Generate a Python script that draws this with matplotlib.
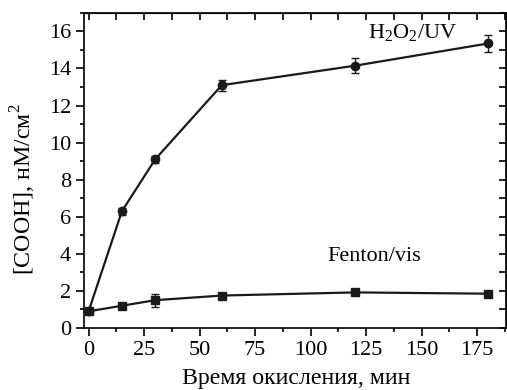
import matplotlib
matplotlib.use("Agg")
from matplotlib import pyplot as plt
from matplotlib.ticker import MultipleLocator

plt.rcParams['font.family'] = ['Liberation Serif', 'DejaVu Serif']
plt.rcParams['mathtext.fontset'] = 'custom'
plt.rcParams['mathtext.rm'] = 'Liberation Serif'

time = [0, 15, 30, 60, 120, 180]
uv_vals = [0.9, 6.3, 9.1, 13.1, 14.15, 15.35]
uv_err = [0.1, 0.2, 0.2, 0.3, 0.4, 0.45]
fenton_vals = [0.9, 1.2, 1.5, 1.75, 1.92, 1.85]
fenton_err = [0.1, 0.1, 0.35, 0.1, 0.1, 0.08]

fig = plt.figure(figsize=(5.07, 3.9), dpi=100)
ax = fig.add_axes([0.166, 0.159, 0.832, 0.808])

ax.errorbar(time, uv_vals, yerr=uv_err, color='#1a1a1a', marker='o', markersize=6,
            lw=1.6, capsize=3, elinewidth=1, capthick=1)
ax.errorbar(time, fenton_vals, yerr=fenton_err, color='#1a1a1a', marker='s', markersize=6,
            lw=1.6, capsize=3, elinewidth=1, capthick=1)

ax.text(126, 15.6, r'H$_2$O$_2$/UV', fontsize=16)
ax.text(107.5, 3.85, 'Fenton/vis', fontsize=16, va='center')

ax.set_xlim(-2, 188)
ax.set_ylim(0, 17)
ax.xaxis.set_major_locator(MultipleLocator(25))
ax.xaxis.set_minor_locator(MultipleLocator(12.5))
ax.yaxis.set_major_locator(MultipleLocator(2))
ax.yaxis.set_minor_locator(MultipleLocator(1))
ax.tick_params(which='both', direction='out', labelsize=16, width=1.2, top=False, right=False)
ax.tick_params(which='major', length=6)
ax.tick_params(which='minor', length=3)

# inward ticks on top and right
sec_x = ax.secondary_xaxis('top')
sec_x.xaxis.set_major_locator(MultipleLocator(12.5))
sec_x.tick_params(direction='in', length=5, width=1.2, labeltop=False)
sec_y = ax.secondary_yaxis('right')
sec_y.yaxis.set_major_locator(MultipleLocator(1))
sec_y.tick_params(direction='in', length=5, width=1.2, labelright=False)

for s in ax.spines.values():
    s.set_linewidth(1.2)

ax.set_xlabel('Время окисления, мин', fontsize=17.2)
ax.set_ylabel(r'[COOH], нМ/см$^2$', fontsize=17.2)
ax.xaxis.set_label_coords(0.502, -0.128)
ax.yaxis.set_label_coords(-0.11, 0.44)

fig.savefig('out.png', dpi=100)
